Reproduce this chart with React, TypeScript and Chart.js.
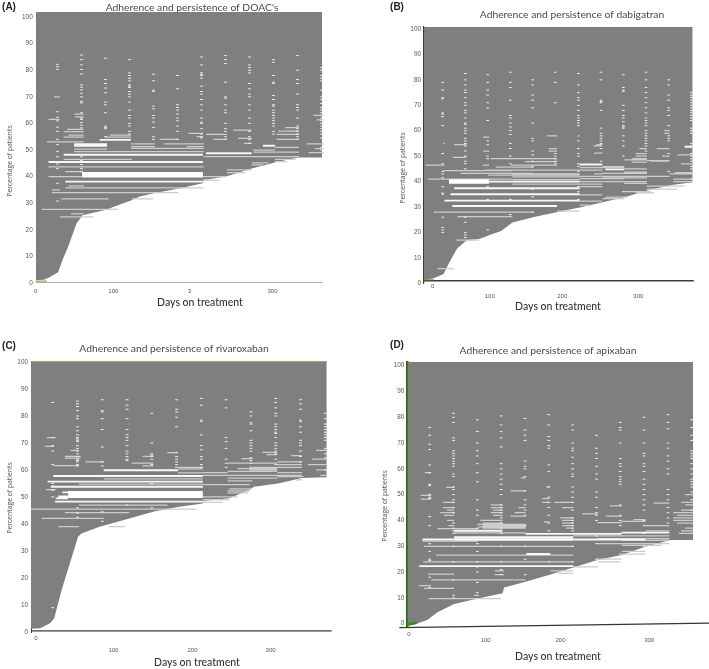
import React, { useEffect, useRef } from "react";
import { Chart, registerables } from "chart.js";

Chart.register(...registerables);

type Row = number[];
type Col = [number, number[]];

// ---------- Panel A ----------
const A_EDGE: Row[] = [[0,1],[10,1.2],[16,2],[28,4],[34,9],[41,14],[51,22.4],[58.5,25.5],[72,26.4],[88,27.5],[101,29],[119,31],[130,32.5],[148,33.7],[180,35.6],[209,37.5],[210,38.7],[238,40],[269,43],[300,45.4],[328,47.2],[358,47.2]];
const A_WIDE: Row[] = [[40.7,58,209]];
const A_BRIGHT: Row[] = [[48.2,35,209],[45.5,16,209],[38.1,37,209],[48.8,213,270],[53.8,80,119],[52.2,48,89],[51.6,48,89],[51.6,284,299]];
const A_PALE: Row[] = [[57.8,39,60],[56.9,35,60],[55.6,41,60],[54.8,35,60],[53.1,14,60],[63.5,48,60],[62.5,49,60],[61.5,16,30],[70,23,30],[55.6,93,119],[54.8,87,119],[52.3,119,149],[51.3,119,149],[54,155,179],[52.3,160,210],[51.3,189,210],[56.3,191,209],[55,201,209],[55.9,213,239],[54,222,239],[57.5,247,270],[54.4,253,270],[52.5,260,270],[58.4,312,329],[57.1,303,329],[55.9,301,329],[54,301,329],[63,347,360],[61.3,351,360],[52.3,339,360],[50.5,349,360],[49,341,360],[50.3,48,89],[49.4,48,89],[50.6,119,210],[49.4,89,210],[47.5,210,329],[50,272,299],[49.2,272,299],[51,299,329],[49.2,299,329],[46.5,35,120],[43.7,16,210],[41.9,37,58],[40,16,58],[36.5,41,60],[35.8,37,210],[35,20,30],[34,20,178],[31.6,32,91],[31.6,120,147],[27.7,7.5,103],[26,44,60],[24.9,30,72],[38.7,209,230],[40,209,239],[41.5,239,262],[42.5,239,270],[44.4,270,284],[45.2,270,291],[46.5,299,325],[45.6,299,314]];
const A_COLS: Col[] = [
  [29,[82.2,81.3,80.3,64.4,62.3,61,58.6,57,54,52,49.4,47.5,44.7,43,37.5,30.8]],
  [59,[85.7,84,82,80.3,78.6,74.5,73.6,72.6,71.3,70,68.3,67.7,64,62,61.5,60.3,59.3,58.3,47.5,46,44.5,43,42]],
  [89,[84.5,76.5,75,73.3,71.5,68,67,64,59,58.5,58,55]],
  [119,[84,79,78,77,76,74.5,74,73.5,72,71,70,68,65,63,62,60,59,57,56]],
  [149,[78.5,76,72.5,72,66.5,65.5,63,62,60.5,58.5,55,54]],
  [179,[78,73,67,66,65,63.5,62,61,59,57,54]],
  [209,[85,82,79,78.5,78,77,74,72,71,69,67,65,62,60.5,60,58,56,55,54.5]],
  [239,[85.5,84,82.5,75.5,70,69.5,67,65,64,60,58,57,55,54]],
  [269,[85,82,81,80,79,75,73,71,70,67,65,62,60,57,55,54,52.5]],
  [299,[84,83,78,75.5,75,70.5,69,67,66.5,65,64,63,62,61,60,59,57,56]],
  [329,[85.5,80,76.5,75,71,67,66,65,62,59,58,57,56,55,54]],
  [359,[81,80,78,77,76,72.5,70,69,67.5,66,65,64,63,62,61,60,59,58,57,56,54.5,51,50]],
];
const A_TICK_DAYS = [97, 192, 296];
const A_TICK_LABELS = ["100", "3", "300"];
const A_BASE: Row[] = [[0,0.2],[359,0.2]];
const A_GREEN: Row[] = [[0,0.6],[14,0.6]];

// ---------- Panel B ----------
const B_EDGE: Row[] = [[0,1.3],[13,2],[26,3.7],[33,7.9],[44,13.8],[57,17],[73,17.4],[87,19],[102,20.6],[117,23.9],[147,26.2],[177,28],[207.5,29.9],[238,32],[267.6,34],[298,36.7],[328,38.7],[355.5,39.7]];
const B_WIDE: Row[] = [[40,33,86]];
const B_BRIGHT: Row[] = [[40,86,206],[37.4,40,206],[35,35,206],[32.5,27,206],[30.4,37.5,176],[46.7,206,236],[44.8,240,265],[53.7,345,355]];
const B_PALE: Row[] = [[46.5,2,27],[44.3,25.6,116],[43.2,48.5,145],[42.5,85,206],[41,5,116],[41.8,117,206],[43,117,206],[40.8,117,206],[39,117,206],[28,13,145],[26.2,44,117],[17,43,73],[5.8,18,39],[49,88,176],[47.8,134,176],[46.5,115,176],[45.7,95,145],[44.5,80,206],[45.5,206,265],[44.5,206,236],[43,225,236],[42,206,295],[41.2,206,265],[40,206,265],[39,206,236],[38,206,236],[34.8,206,236],[33.3,236,265],[45.9,236,265],[43.2,236,295],[41.5,236,295],[40,265,295],[39.3,265,295],[48.5,265,295],[47.6,275,295],[45,265,295],[43.7,265,295],[42,295,325],[48.2,295,325],[38.2,295,345],[37,295,335],[36,265,300],[35.6,280,305],[33.9,240,270],[43,325,355],[41,330,355],[40,330,355],[28.4,176,206],[30.7,206,220],[32.3,206,236],[58,163,176],[55,25,27],[54,224,236],[51.2,225,236],[54.5,228,236],[49.5,38,56],[54.5,40,56],[52,78,86],[57.5,78,86],[46.5,78,86],[53,165,176],[52,165,176],[58,203,206],[43.5,332,355],[50.5,335,355],[47,340,355],[53,285,295],[51,280,295],[50,280,295],[49,275,295],[53,308,325],[50,315,325],[48,300,325],[60,318,325],[59,318,325]];
const B_COLS: Col[] = [
  [26.5,[79,76,73,72.5,67,66.5,65.5,62,51,47,44,43,41.5,38,35.5,35,26,22,21,20]],
  [56.5,[82.5,80,78,76,75,73,71,70,68,67,65,63,62.5,61,60,59,57,56,55,54,52,50,48,47,45,26,24,20,19,18]],
  [86,[82,79,76,74,71,69,64,56,54.5,50,49,38,33,30.5,21]],
  [116,[83,79,77,72,66,65,63,61.5,60,58.5,55,53,50,47,33,30.5,27]],
  [145.5,[80,78,74,72,69,63,57,56,52,50.5,48,46,37,34,28]],
  [175.5,[83,79,71,51,50,49,48,47]],
  [206,[82.5,78,75,73,72,70,68,66,65,64,63,62,56,53,51,50,47,46,44,38,36,33]],
  [236,[83,80,72,71.5,71,68,61,59,58,57,56,55,53,48]],
  [265.5,[82,77,76,75.5,70,68,66,65,63.5,62,61.5,61,58,56,54,50,36]],
  [295.5,[83,80,77,75,73,71,69,67,65,64,63,62,60,59,58,57,56,55,54,52]],
  [325.5,[80,78,74,72,69,68,66,62,58,57,56,51,44]],
  [355.5,[75,74,73,72,71,70,69,68,67,66,65,64,61,60,59,55,54,51,50,49,48,46,45,41]],
];
const B_TICK_DAYS = [87, 183, 283.6];
const B_TICK_LABELS = ["100", "200", "300"];
const B_BASE: Row[] = [[0,1],[357,1]];
const B_GREEN: Row[] = [[0,1.4],[13,1.4]];

// ---------- Panel C ----------
const C_EDGE: Row[] = [[0,1.2],[11,1.4],[23,3.2],[28,5],[37,15.5],[47,25.4],[57,35.3],[61,36.5],[83,39],[119,42],[149,44.6],[179.5,46.4],[208,47.6],[208.5,48.5],[240,49.5],[264,52.6],[270,53.8],[299,55],[328,57],[358,57.3]];
const C_WIDE: Row[] = [[50.9,45,208]];
const C_BRIGHT: Row[] = [[57.8,27,208],[59.9,88,178],[55.7,20,208],[53.8,24,208],[48.3,29,208],[51.7,38,58],[50.2,33,45],[49.5,30,45]];
const C_PALE: Row[] = [[47,58,165],[45.5,0,200],[44.2,41,119],[42.1,13,88],[39,33,58],[39,94,114],[61.6,27,58],[63,66,88],[64.4,41,60],[65,41,60],[67.3,48,58],[72,19,30],[68.7,17,28],[62.5,122,148],[66.4,165,178],[61,178,208],[60.4,178,208],[58.9,178,208],[59,208,238],[58,208,238],[58,238,298],[57,238,298],[59.5,238,298],[60.5,250,298],[56,238,268],[54.6,208,265],[53,240,268],[52.3,238,265],[51.5,238,263],[50,208,250],[49,208,240],[48,208,232],[62.5,238,298],[61,268,298],[60,268,298],[63,298,328],[62,298,328],[61,298,328],[59,298,328],[58,298,328],[56.3,320,328],[57.5,298,330],[62,335,358],[64,340,358],[60,345,358],[58,350,358],[67.3,345,358],[65.3,315,328],[64.2,255,268],[66.5,280,298],[65.7,285,298],[61.5,135,148],[65,135,148],[56.7,88,208],[54.8,58,208],[52.7,18,30]];
const C_COLS: Col[] = [
  [28,[85,72,69,67,62,55,54,52.5,50,9]],
  [58,[85.5,84.5,83.5,82,80,79,76,74.5,73,72,71.5,71,70.5,69,68,67,66,65,64,63.5,63,62,61.5,46,44,42.5]],
  [88,[86,82,81.5,79,75,68.5,63,61.5,44.5,41]],
  [118,[86,84,82.5,79,75,73,72,71,69,67,66,65,64,63.5,47]],
  [148,[81,70,66,65.5,65,64,62,55,46]],
  [178,[86,82.5,81.5,79.5,76,66.5,65,64,63,62,61]],
  [208,[86.5,84,78.5,78,73,69,67.5,65,64,62,61]],
  [238,[86,83,72,70.5,68,64,62.5,61]],
  [268,[81.5,80,77.5,77,74.5,71,70,69,68,67,64.5,63.5,62.5,61,60]],
  [298,[86.5,85,83,81,80,77,76,75,74,73.5,72,70,69,68,67,66,64,62]],
  [328,[86,84.5,82.5,78.5,78,76,74,71,70,69,67,65,63]],
  [358,[81,79,77,76,75,74,73,72,71,68,66,64.5,60]],
];
const C_TICK_DAYS = [99.8, 195.5, 290];
const C_TICK_LABELS = ["100", "200", "300"];
const C_BASE: Row[] = [[0,0.4],[364,0.4]];
const C_GREEN: Row[] = [[0,100.2],[358,100.2]];

// ---------- Panel D ----------
const D_EDGE: Row[] = [[0,-0.8],[2,-0.5],[12.6,0.1],[25,1.4],[38,4.4],[59,7.6],[89,9.8],[120,11.8],[122,14],[149,16.3],[179.4,19],[209,21.8],[239.5,24.7],[270,26.6],[299.6,29.8],[332,32.4],[360,32.4]];
const D_WIDE: Row[] = [[32.6,59,209]];
const D_BRIGHT: Row[] = [[32.6,19,59],[32.6,209,300],[33.5,59,209],[36,59,120],[34.8,149,270],[35.3,270,330],[27,150,180],[22.3,15,209]];
const D_PALE: Row[] = [[36.8,38,89],[35.2,59,149],[37.5,89,149],[38.5,88,149],[32,19,89],[30,21,209],[26.6,36,209],[24,20,209],[19.2,26,59],[17,30,149],[14.8,15,30],[13.7,21,59],[9.7,27,118],[11,84,90],[19,110,122],[20.5,110,122],[34,209,330],[36,300,330],[33,240,330],[32.3,270,330],[31,239,330],[30.3,270,320],[28,270,300],[27,270,300],[25,239,270],[24,240,268],[22,209,240],[20.5,180,209],[19.5,190,209],[38,300,330],[39.6,270,300],[40.3,285,300],[42.6,220,239.5],[39.2,239.5,270],[41.7,250,270],[45.7,255,270],[46.7,310,330],[41,335,360],[42,340,360],[40,335,360],[39,340,360],[43,335,360],[36,345,360],[37,350,360],[35,342,360],[44,345,360],[46,350,360],[47,345,360],[50,350,360],[45,45,59],[44,50,59],[43,41,59],[42,46,59],[40,50,59],[38,52,59],[47,45,59],[52.8,49,59],[49.7,17,30],[48.3,17,30],[58.5,22,30],[46,105,120],[45,105,120],[44,108,120],[43,105,120],[42,108,120],[40,92,120],[39,95,120],[38,95,149],[37,95,149],[43,135,149],[41.7,130,149],[45,140,149],[51.5,130,149],[56.5,143,149],[48.5,170,179],[47,170,179],[39.5,172,179],[53,175,179],[47,185,209],[45,195,209],[41,192,209],[40,195,209],[39,195,209],[38,195,209],[37,200,209]];
const D_COLS: Col[] = [
  [30,[76,73,69.5,67.5,61.5,58.5,54,53.5,50,49,48.5,41.5,38,31,28,25,24.5,18,14]],
  [60,[81.5,80,78,72,71,67,66,65,64,63,62,61,58,57,53,52,50,48,47,45,43,39,37,36,35,30,24,17,11,10]],
  [90,[79,74.5,70,67,65,62,58.5,55,48,44,42,37,31,28,24,22,20,16,12]],
  [120,[80.5,77,74.5,72,68.5,62,60,58,56,54,52,50,46,45,44,43,41,39,37,35,30,24,21,19]],
  [150,[79.5,75,73,71,63,61,60,57,51.5,48,46,44,42,38,30,25,19]],
  [180,[81,77,72.5,71,69,68,61.5,59,53,49,47,45,42,39,36,27,24]],
  [210,[77,75,70,68,67,64.5,62,60,58,57,53,51,49,47,44,41,40,39,38,37,36,30,24]],
  [240,[73,68,66,64,61,58,56,51,49,45,43,42,40,34,31,25]],
  [270,[78,76,75,70,64,62,61,59,57,56,55,54,46,42,40,38,35,27]],
  [300,[80,75,70,66,65,62,61,59,56,54,52,50,48,46,44,40,38,35,30]],
  [330,[81,78,75.5,70,68,65,63,60,58,52,50,48,45,43,41,39]],
  [360,[79,76,73,71,67,66,65,64,62,60,58,56,55,54,53,51,48,44]],
];
const D_TICK_DAYS = [98.7, 193, 304.6];
const D_TICK_LABELS = ["100", "200", "300"];
const D_BASE: Row[] = [[-10,-1.5],[380,0.2]];
const D_GREEN: Row[] = [[0,-0.4],[12,0.4]];

const GRAY = "#7f7f7f";
const INK = "#555555";
const DASH = 3.5;

const PANELS = [
  { letter: "(A)", title: "Adherence and persistence of DOAC's", edge: A_EDGE, wide: A_WIDE, bright: A_BRIGHT, pale: A_PALE, cols: A_COLS, tickDays: A_TICK_DAYS, tickLabels: A_TICK_LABELS, zeroDay: 0, base: A_BASE, green: A_GREEN,
    left: 35.7, right: 325, top: 11.7, bottom: 283, xMax: 361.6, yMin: 0, yMax: 102, wideW: 5.5,
    letterAt: [9, 7.5], titleAt: [192, 8], yTitleAt: [10, 161], xTitleAt: [200, 303], zeroY: 290.7, tickY: 290.7,
    baseColor: "#a9b19f", baseW: 1, greenColor: "#a5c878", greenW: 2, yLine: "", yLineW: 0 },
  { letter: "(B)", title: "Adherence and persistence of dabigatran", edge: B_EDGE, wide: B_WIDE, bright: B_BRIGHT, pale: B_PALE, cols: B_COLS, tickDays: B_TICK_DAYS, tickLabels: B_TICK_LABELS, zeroDay: 11.5, base: B_BASE, green: B_GREEN,
    left: 424, right: 694, top: 26.7, bottom: 283.3, xMax: 357.3, yMin: 0, yMax: 100.9, wideW: 4.5,
    letterAt: [397, 7], titleAt: [572, 15], yTitleAt: [403, 168], xTitleAt: [558, 307], zeroY: 286, tickY: 295.5,
    baseColor: "#38402c", baseW: 1.3, greenColor: "#6f9a45", greenW: 1, yLine: "#3a3f35", yLineW: 1.2 },
  { letter: "(C)", title: "Adherence and persistence of rivaroxaban", edge: C_EDGE, wide: C_WIDE, bright: C_BRIGHT, pale: C_PALE, cols: C_COLS, tickDays: C_TICK_DAYS, tickLabels: C_TICK_LABELS, zeroDay: 6, base: C_BASE, green: C_GREEN,
    left: 31, right: 331.7, top: 361.3, bottom: 632, xMax: 364, yMin: 0, yMax: 100.25, wideW: 7,
    letterAt: [9, 346], titleAt: [174, 349], yTitleAt: [10, 498], xTitleAt: [197, 663], zeroY: 638, tickY: 650,
    baseColor: "#3b3b3b", baseW: 1.2, greenColor: "#8cae62", greenW: 1, yLine: "#3a3a3a", yLineW: 1 },
  { letter: "(D)", title: "Adherence and persistence of apixaban", edge: D_EDGE, wide: D_WIDE, bright: D_BRIGHT, pale: D_PALE, cols: D_COLS, tickDays: D_TICK_DAYS, tickLabels: D_TICK_LABELS, zeroDay: 2, base: D_BASE, green: D_GREEN,
    left: 407.3, right: 709, top: 362, bottom: 627.7, xMax: 380, yMin: -1.55, yMax: 101.4, wideW: 2.5,
    letterAt: [397, 345], titleAt: [548, 351], yTitleAt: [385, 506], xTitleAt: [558, 657], zeroY: 634, tickY: 640,
    baseColor: "#303a28", baseW: 1.2, greenColor: "#3f8a14", greenW: 2.5, yLine: "#2c6a10", yLineW: 2.5 },
];

const rowLine = (rows: Row[]) =>
  rows.flatMap(([y, a, b]) => [{ x: a, y }, { x: b, y }, { x: b, y: null as number | null }]);
const colLine = (cols: Col[]) =>
  cols.flatMap(([day, ys]) => rowLine(ys.map((y) => [y, day - DASH, day])));
const pts = (rows: Row[]) => rows.map(([x, y]) => ({ x, y }));

const strokeSet = (data: any[], color: string, width: number, order: number) => ({
  data, borderColor: color, borderWidth: width, pointRadius: 0, fill: false, order, spanGaps: false, tension: 0,
});

// Run a scale's title drawing with its box moved, so that only the title moves.
function moveTitle(scale: any, box: { left?: number; right?: number; top?: number; bottom?: number }) {
  const draw = scale.drawTitle;
  scale.drawTitle = function (...args: any[]) {
    const keep = { left: this.left, right: this.right, top: this.top, bottom: this.bottom };
    Object.assign(this, box);
    draw.apply(this, args);
    Object.assign(this, keep);
  };
}

function buildChart(canvas: HTMLCanvasElement, p: (typeof PANELS)[number]) {
  const CW = 709, CH = 669;
  const tickFont = { family: "'Liberation Sans'", size: 6 };
  const h0 = Math.max(p.tickY - 3 - p.bottom, 1);
  const xSize = 10.5;
  const ySize = 6.8;

  const place = {
    id: "placeText",
    afterLayout(chart: any) {
      const setBox = (b: any, at: number[], half: number) => {
        b.left = at[0] - half; b.right = at[0] + half; b.width = half * 2; b.top = at[1]; b.bottom = at[1];
      };
      setBox(chart.titleBlock, p.titleAt, 170);
      const sub = chart.boxes.find((b: any) => b.options && b.options.text === p.letter);
      if (sub) setBox(sub, p.letterAt, 30);
      chart.scales.x0.bottom = CH;
      moveTitle(chart.scales.x, { left: p.xTitleAt[0] - 100, right: p.xTitleAt[0] + 100 });
      moveTitle(chart.scales.y, { top: p.yTitleAt[1] - 100, bottom: p.yTitleAt[1] + 100 });
    },
  };

  return new Chart(canvas, {
    type: "line",
    plugins: [place],
    data: {
      datasets: [
        { data: pts(p.edge), borderWidth: 0, borderColor: GRAY, backgroundColor: GRAY, fill: "end", pointRadius: 0, order: 100, tension: 0 },
        strokeSet(rowLine(p.pale), "#cccccc", 1.25, 6),
        strokeSet(colLine(p.cols), "#ececec", 1, 5),
        strokeSet(rowLine(p.bright), "#f8f8f8", 1.9, 4),
        strokeSet(rowLine(p.wide), "#ffffff", p.wideW, 3),
        { ...strokeSet(pts(p.base), p.baseColor, p.baseW, 2), clip: false },
        { ...strokeSet(pts(p.green), p.greenColor, p.greenW, 1), clip: false },
      ] as any,
    },
    options: {
      responsive: false,
      animation: false,
      events: [],
      layout: { padding: { left: 0, top: p.top, right: CW - p.right, bottom: 0 } },
      plugins: {
        legend: { display: false },
        tooltip: { enabled: false },
        title: { display: true, text: p.title, color: "#4a4a4a", padding: 0, font: { family: "Lato", size: 10.3, weight: "normal", lineHeight: 0 } },
        subtitle: { display: true, text: p.letter, color: "#222222", padding: 0, font: { family: "'Liberation Sans'", size: 10, weight: "bold", lineHeight: 0 } },
      },
      scales: {
        x0: {
          type: "linear", position: "bottom", weight: -1, min: 0, max: p.xMax,
          grid: { display: false, drawTicks: false }, border: { display: false },
          afterBuildTicks: (s: any) => { s.ticks = [{ value: p.zeroDay }]; },
          ticks: { font: tickFont, color: INK, padding: p.zeroY - 3 - p.bottom, maxRotation: 0, autoSkip: false, callback: () => "0" },
          afterFit: (s: any) => { s.height = h0; },
        },
        x: {
          type: "linear", position: "bottom", weight: 1, min: 0, max: p.xMax,
          grid: { display: false, drawTicks: false }, border: { display: false },
          afterBuildTicks: (s: any) => { s.ticks = p.tickDays.map((value) => ({ value })); },
          ticks: { font: tickFont, color: INK, padding: 0, maxRotation: 0, autoSkip: false, callback: (_: any, i: number) => p.tickLabels[i] },
          title: {
            display: true, text: "Days on treatment", color: "#333333", font: { family: "Lato", size: xSize, weight: "500" },
            padding: { top: 0, bottom: CH - p.xTitleAt[1] - (xSize * 1.2) / 2 },
          },
          afterFit: (s: any) => { s.height = CH - p.bottom - h0; },
        },
        y: {
          type: "linear", position: "left", min: p.yMin, max: p.yMax,
          grid: { display: false, drawTicks: false },
          border: { display: !!p.yLine, color: p.yLine || GRAY, width: p.yLineW || 1 },
          ticks: { stepSize: 10, includeBounds: false, font: { family: "'Liberation Sans'", size: 6.4 }, color: INK, padding: 3 },
          title: {
            display: true, text: "Percentage of patients", color: "#555555", font: { family: "'Open Sans'", size: ySize },
            padding: { top: p.yTitleAt[0] - (ySize * 1.2) / 2, bottom: 0 },
          },
          afterFit: (s: any) => { s.width = p.left; },
        },
      },
    } as any,
  });
}

function Panel({ p }: { p: (typeof PANELS)[number] }) {
  const ref = useRef<HTMLCanvasElement>(null);
  useEffect(() => {
    const chart = buildChart(ref.current!, p);
    return () => chart.destroy();
  }, [p]);
  return <canvas ref={ref} width={709} height={669} style={{ position: "absolute", left: 0, top: 0, width: 709, height: 669 }} />;
}

export default function App() {
  return (
    <div style={{ position: "absolute", left: 0, top: 0, width: 709, height: 669, overflow: "hidden", background: "#fff", filter: "blur(0.4px)" }}>
      {PANELS.map((p) => <Panel key={p.letter} p={p} />)}
    </div>
  );
}
